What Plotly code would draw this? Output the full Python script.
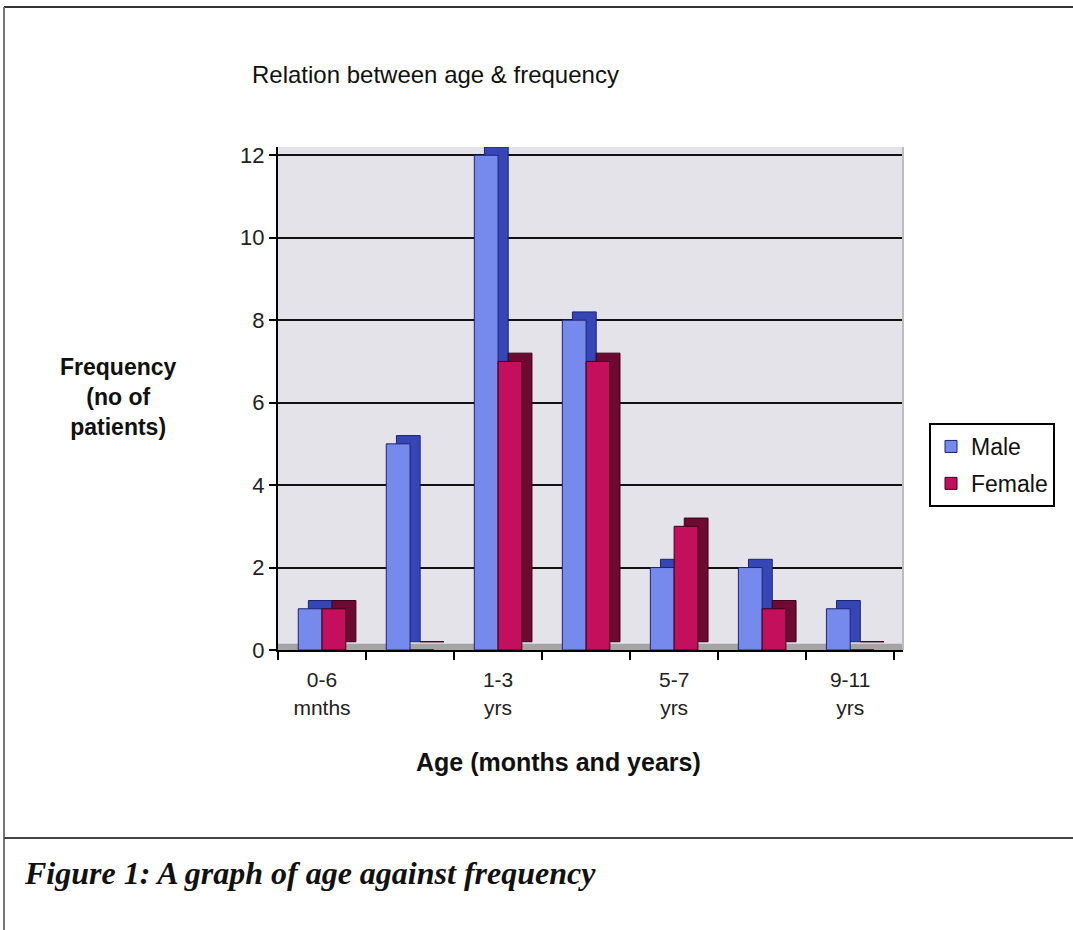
import plotly.graph_objects as go

# ---- data ----
categories = ["0-6 mnths", "", "1-3 yrs", "", "5-7 yrs", "", "9-11 yrs"]
male = [1, 5, 12, 8, 2, 2, 1]
female = [1, 0, 7, 7, 3, 1, 0]
y_ticks = [0, 2, 4, 6, 8, 10, 12]
chart_title = "Relation between age & frequency"
x_title = "Age (months and years)"
y_title = "Frequency<br>(no of<br>patients)"
caption = "Figure 1: A graph of age against frequency"

# ---- style ----
FONT = "Liberation Sans, Arial, sans-serif"
W_BAR = 0.27
DX = 0.115    # 3D depth, x (category units)
DY = 0.2      # 3D depth, y (value units)
male_front, male_side, male_line = "#7689ec", "#3646b4", "#1c2470"
fem_front, fem_side, fem_line = "#c4105c", "#6e0a32", "#3a0018"

x = list(range(len(categories)))
tickvals = [i for i, c in enumerate(categories) if c]
ticktext = [c.replace(" ", "<br>") for c in categories if c]

fig = go.Figure()


def add_series(vals, name, front, side, line, off):
    # depth (side + top face)
    fig.add_trace(go.Bar(
        x=x, y=vals, base=DY, offset=off + DX, width=W_BAR,
        marker=dict(color=side, line=dict(color=line, width=1)),
        showlegend=False, hoverinfo="skip"))
    # front face
    fig.add_trace(go.Bar(
        x=x, y=vals, offset=off, width=W_BAR, name=name,
        legendgroup=name,
        marker=dict(color=front, line=dict(color=line, width=1))))


add_series(male, "Male", male_front, male_side, male_line, -W_BAR)
add_series(female, "Female", fem_front, fem_side, fem_line, 0)

L, R, T, B = 278, 170, 147, 280
PW, PH = 1073 - L - R, 930 - T - B


def px(xp):
    return (xp - L) / PW


def py(yp):
    return (930 - B - yp) / PH


shapes = [
    # floor
    dict(type="rect", xref="x domain", yref="y", x0=0, x1=1, y0=-0.02, y1=0.15,
         fillcolor="#a4a4a4", line=dict(width=0), layer="below"),
    # page frame
    dict(type="line", xref="paper", yref="paper", x0=px(4), x1=px(1073), y0=py(7), y1=py(7),
         line=dict(color="#333333", width=2)),
    dict(type="line", xref="paper", yref="paper", x0=px(4), x1=px(4), y0=py(7), y1=py(930),
         line=dict(color="#777777", width=2)),
    dict(type="line", xref="paper", yref="paper", x0=px(4), x1=px(1073), y0=py(838), y1=py(838),
         line=dict(color="#444444", width=2)),
    # right wall edge
    dict(type="line", xref="x domain", yref="y domain", x0=1, x1=1, y0=0, y1=1,
         line=dict(color="#bdbdbd", width=2)),
]

annotations = [
    dict(text=chart_title, xref="paper", yref="paper", x=px(250), y=py(75),
         xanchor="left", yanchor="middle", showarrow=False,
         font=dict(family=FONT, size=24, color="#111111")),
    dict(text="<b>" + y_title + "</b>", xref="paper", yref="paper", x=px(118), y=py(397),
         xanchor="center", yanchor="middle", align="center", showarrow=False,
         font=dict(family=FONT, size=23, color="#111111")),
    dict(text="<b>" + x_title + "</b>", xref="paper", yref="paper", x=px(558), y=py(762),
         xanchor="center", yanchor="middle", showarrow=False,
         font=dict(family=FONT, size=25, color="#111111")),
    dict(text="<b><i>" + caption + "</i></b>", xref="paper", yref="paper", x=px(22), y=py(873),
         xanchor="left", yanchor="middle", showarrow=False,
         font=dict(family="Liberation Serif, Times New Roman, serif", size=32, color="#111111")),
]

fig.update_layout(
    width=1073, height=930,
    margin=dict(l=L, r=R, t=T, b=B, pad=0),
    paper_bgcolor="white", plot_bgcolor="#e3e3e9",
    barmode="overlay",
    font=dict(family=FONT, color="#222222"),
    shapes=shapes, annotations=annotations,
    legend=dict(x=px(929), y=py(423), xanchor="left", yanchor="top",
                bordercolor="black", borderwidth=2, bgcolor="white",
                itemwidth=30,
                font=dict(family=FONT, size=23, color="#111111"),
                tracegroupgap=4, traceorder="grouped"),
    xaxis=dict(range=[-0.5, 6.6], tickmode="array", tickvals=tickvals, ticktext=ticktext,
               ticks="outside", ticklen=10, tickcolor="rgba(0,0,0,0)",
               tickfont=dict(family=FONT, size=21, color="#222222"),
               showgrid=False, zeroline=False, showline=True, linecolor="black", linewidth=2,
               minor=dict(tickmode="array", tickvals=[i - 0.5 for i in range(len(categories) + 1)],
                          ticks="outside", ticklen=8, tickcolor="black", tickwidth=2, showgrid=False)),
    yaxis=dict(range=[0, 12.2], tickmode="array", tickvals=y_ticks,
               ticks="outside", ticklen=7, tickcolor="black", tickwidth=2,
               tickfont=dict(family=FONT, size=22, color="#222222"),
               showgrid=True, gridcolor="#111111", gridwidth=2,
               zeroline=False, showline=True, linecolor="black", linewidth=2),
)

fig.write_html("out.html", config={"displayModeBar": False},
               post_script="document.body.style.margin='0';")
